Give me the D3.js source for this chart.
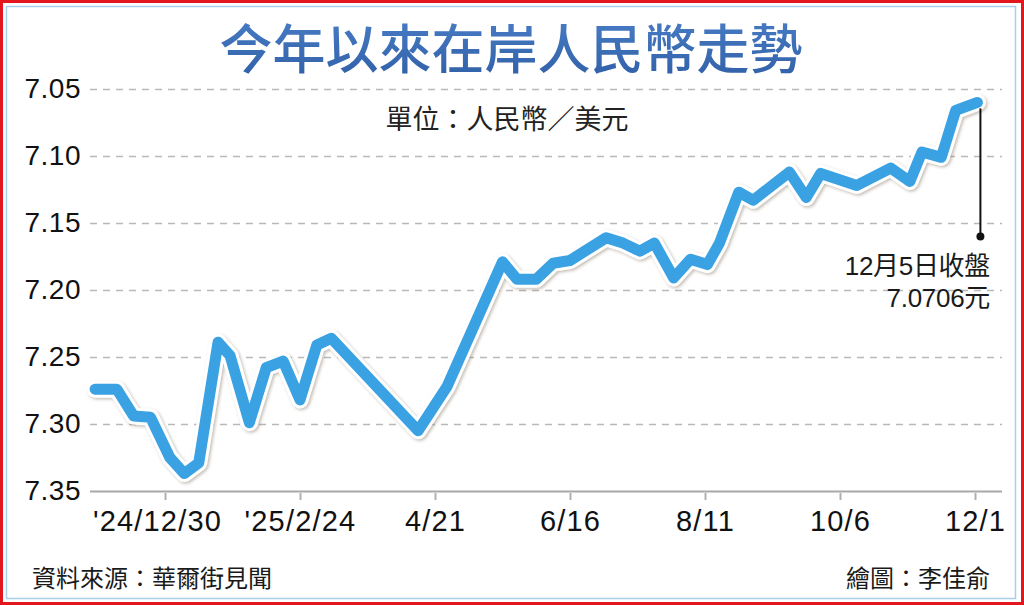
<!DOCTYPE html>
<html>
<head>
<meta charset="utf-8">
<script src="https://cdn.jsdelivr.net/npm/d3@7"></script>
<style>
  html, body { margin: 0; padding: 0; background: #fff; }
  svg { display: block; }
</style>
</head>
<body>
<svg id="chart" width="1024" height="605"></svg>
<script>
// ---- data ----
const titleText = "今年以來在岸人民幣走勢";
const unitText = "單位：人民幣／美元";
const sourceText = "資料來源：華爾街見聞";
const creditText = "繪圖：李佳俞";
const noteLines = ["12月5日收盤", "7.0706元"];
const noteDotValue = 7.16;

const dates = ["2024-12-01","2024-12-10","2024-12-17","2024-12-24","2025-01-01","2025-01-07","2025-01-13","2025-01-21","2025-01-26","2025-02-03","2025-02-10","2025-02-17","2025-02-24","2025-03-03","2025-03-09","2025-04-14","2025-04-26","2025-05-19","2025-05-25","2025-06-02","2025-06-09","2025-06-16","2025-07-01","2025-07-08","2025-07-15","2025-07-21","2025-07-29","2025-08-05","2025-08-12","2025-08-17","2025-08-25","2025-08-31","2025-09-15","2025-09-22","2025-09-28","2025-10-13","2025-10-27","2025-11-04","2025-11-09","2025-11-17","2025-11-23","2025-12-02"];
const values = [7.274,7.274,7.294,7.295,7.325,7.337,7.329,7.239,7.249,7.299,7.258,7.253,7.282,7.241,7.236,7.305,7.272,7.179,7.192,7.192,7.180,7.178,7.161,7.165,7.171,7.165,7.191,7.177,7.181,7.165,7.127,7.133,7.112,7.131,7.113,7.122,7.109,7.119,7.097,7.101,7.066,7.060];

const yTicks = [7.05, 7.10, 7.15, 7.20, 7.25, 7.30, 7.35];
const xTickDates = ["2024-12-30","2025-02-24","2025-04-21","2025-06-16","2025-08-11","2025-10-06","2025-12-01"];
const xTickLabels = ["'24/12/30","'25/2/24","4/21","6/16","8/11","10/6","12/1"];

// ---- setup ----
const parse = d3.utcParse("%Y-%m-%d");
const data = dates.map((d, i) => ({ date: parse(d), value: values[i] }));
const svg = d3.select("#chart");
const W = 1024, H = 605;
const plotLeft = 90, plotRight = 1002;
const latinCjk = "'Liberation Sans', 'Noto Sans CJK TC', sans-serif";

const x = d3.scaleUtc()
  .domain([parse(xTickDates[0]), parse(xTickDates[xTickDates.length - 1])])
  .range([165, 975]);
const y = d3.scaleLinear().domain([7.05, 7.35]).range([89, 491]);

// defs
const defs = svg.append("defs");
const grad = defs.append("linearGradient").attr("id", "titleGrad")
  .attr("x1", 0).attr("y1", 0).attr("x2", 0).attr("y2", 1);
grad.append("stop").attr("offset", "0%").attr("stop-color", "#4b80c8");
grad.append("stop").attr("offset", "100%").attr("stop-color", "#2f5ea6");
const filt = defs.append("filter").attr("id", "shadow")
  .attr("x", "-5%").attr("y", "-5%").attr("width", "110%").attr("height", "110%");
filt.append("feDropShadow").attr("dx", 1.5).attr("dy", 1.5)
  .attr("stdDeviation", 1.5).attr("flood-color", "#7a6a58").attr("flood-opacity", 0.45);

// frame
svg.append("rect").attr("x", 1.5).attr("y", 1.5).attr("width", W - 3).attr("height", H - 3)
  .attr("fill", "#fff").attr("stroke", "#e3161d").attr("stroke-width", 3);
svg.append("rect").attr("x", 6.5).attr("y", 6.5).attr("width", 1009).attr("height", 592)
  .attr("fill", "none").attr("stroke", "#a9cfe8").attr("stroke-width", 1.5);

// title
svg.append("text").attr("x", 511).attr("y", 69)
  .attr("text-anchor", "middle")
  .attr("font-family", "'Noto Sans CJK TC', 'Noto Sans CJK SC', sans-serif")
  .attr("font-weight", 500).attr("font-size", 53)
  .attr("fill", "url(#titleGrad)")
  .text(titleText);

// y axis with gridlines
const yAxis = d3.axisLeft(y).tickValues(yTicks)
  .tickSize(-(plotRight - plotLeft)).tickPadding(9)
  .tickFormat(d3.format(".2f"));
const gy = svg.append("g").attr("transform", `translate(${plotLeft},0)`).call(yAxis);
gy.select(".domain").remove();
gy.selectAll(".tick line")
  .attr("stroke", d => d === 7.35 ? "#a8a8a8" : "#b9b9b9")
  .attr("stroke-width", d => d === 7.35 ? 2.2 : 1.6)
  .attr("stroke-dasharray", d => d === 7.35 ? null : "7,6");
gy.selectAll(".tick text")
  .attr("font-family", "'Liberation Sans', Arial, sans-serif")
  .attr("font-size", 28).attr("fill", "#111")
  .attr("letter-spacing", 0.5);

// x axis
const xAxis = d3.axisBottom(x).tickValues(xTickDates.map(parse))
  .tickSize(9).tickPadding(10)
  .tickFormat((d, i) => xTickLabels[i]);
const gx = svg.append("g").attr("transform", `translate(0,${y(7.35)})`).call(xAxis);
gx.select(".domain").remove();
gx.selectAll(".tick line").attr("stroke", "#b0b0b0").attr("stroke-width", 2).attr("y1", 2);
gx.selectAll(".tick text")
  .attr("font-family", "'Liberation Sans', Arial, sans-serif")
  .attr("font-size", 29).attr("fill", "#111")
  .attr("letter-spacing", 1.2)
  .attr("dx", (d, i) => i === 0 ? -8 : 0);

// unit text
svg.append("text").attr("x", 507).attr("y", 129)
  .attr("text-anchor", "middle")
  .attr("font-family", "'Noto Sans CJK TC', sans-serif")
  .attr("font-size", 27).attr("fill", "#222")
  .text(unitText);

// line
const line = d3.line().x(d => x(d.date)).y(d => y(d.value));
svg.append("path").datum(data).attr("d", line)
  .attr("fill", "none").attr("stroke", "#ffffff").attr("stroke-width", 17)
  .attr("stroke-linejoin", "round").attr("stroke-linecap", "round")
  .attr("filter", "url(#shadow)");
svg.append("path").datum(data).attr("d", line)
  .attr("fill", "none").attr("stroke", "#3aa1e3").attr("stroke-width", 11)
  .attr("stroke-linejoin", "round").attr("stroke-linecap", "round");

// annotation
const last = data[data.length - 1];
const ax = x(last.date) + 3;
svg.append("line").attr("x1", ax).attr("x2", ax)
  .attr("y1", y(last.value) + 6).attr("y2", y(noteDotValue))
  .attr("stroke", "#111").attr("stroke-width", 2);
svg.append("circle").attr("cx", ax).attr("cy", y(noteDotValue)).attr("r", 4).attr("fill", "#111");
svg.append("text").attr("x", 990).attr("y", 275)
  .attr("text-anchor", "end")
  .attr("font-family", latinCjk)
  .attr("font-size", 26).attr("fill", "#1a1a1a")
  .attr("letter-spacing", -0.3)
  .text(noteLines[0]);
svg.append("text").attr("x", 990).attr("y", 307)
  .attr("text-anchor", "end")
  .attr("font-family", latinCjk)
  .attr("font-size", 26).attr("fill", "#1a1a1a")
  .attr("letter-spacing", -0.3)
  .text(noteLines[1]);

// footer
svg.append("text").attr("x", 32).attr("y", 587)
  .attr("font-family", "'Noto Sans CJK TC', sans-serif")
  .attr("font-size", 24).attr("fill", "#1a1a1a")
  .text(sourceText);
svg.append("text").attr("x", 990).attr("y", 587)
  .attr("text-anchor", "end")
  .attr("font-family", "'Noto Sans CJK TC', sans-serif")
  .attr("font-size", 24).attr("fill", "#1a1a1a")
  .text(creditText);
</script>
</body>
</html>
